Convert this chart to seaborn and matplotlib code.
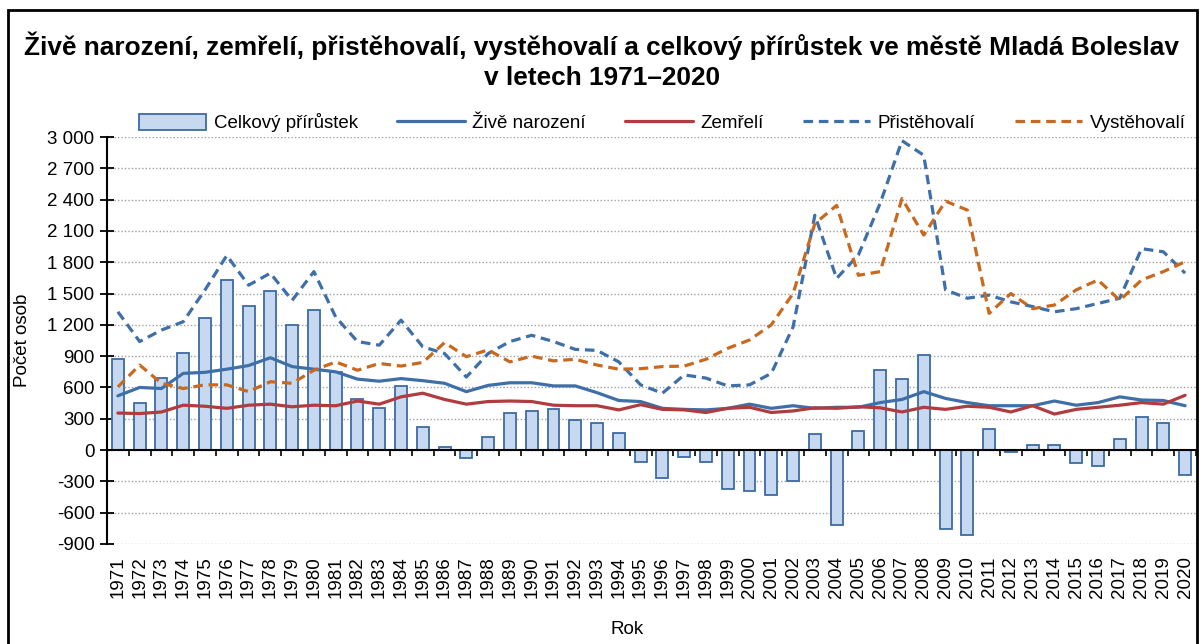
import matplotlib
matplotlib.use('Agg')
import matplotlib.pyplot as plt
from matplotlib.patches import Patch, Rectangle
from matplotlib.lines import Line2D
import seaborn as sns

# -- Data -----------------------------------------------------------------
years = list(range(1971, 2021))

growth = [870, 450, 690, 935, 1265, 1630, 1385, 1520, 1200, 1340,
          750, 490, 400, 615, 225, 25, -80, 125, 355, 375,
          395, 285, 260, 165, -110, -265, -70, -110, -370, -390,
          -430, -300, 150, -715, 185, 765, 685, 915, -755, -815,
          200, -20, 45, 45, -120, -150, 110, 320, 255, -240]

births = [520, 600, 590, 735, 745, 775, 810, 885, 800, 775,
          750, 680, 660, 685, 665, 640, 560, 620, 645, 645,
          615, 615, 550, 475, 465, 400, 390, 385, 400, 440,
          400, 425, 400, 410, 410, 455, 485, 560, 495, 455,
          425, 425, 425, 470, 430, 455, 510, 480, 475, 425]

deaths = [355, 350, 365, 430, 420, 400, 430, 440, 415, 430,
          425, 470, 440, 510, 545, 485, 440, 465, 470, 465,
          430, 425, 425, 385, 435, 390, 385, 360, 400, 410,
          360, 375, 405, 400, 415, 405, 365, 410, 390, 420,
          410, 365, 425, 345, 390, 410, 430, 455, 440, 525]

immigrants = [1325, 1040, 1150, 1230, 1535, 1865, 1580, 1695, 1435, 1710,
              1275, 1040, 1005, 1245, 990, 925, 700, 925, 1040, 1100,
              1040, 965, 955, 845, 625, 545, 720, 690, 615, 625,
              735, 1180, 2250, 1645, 1870, 2365, 2965, 2825, 1535, 1455,
              1485, 1420, 1375, 1325, 1355, 1405, 1455, 1930, 1900, 1695]

emigrants = [605, 815, 640, 590, 625, 625, 560, 655, 640, 765,
             845, 765, 830, 805, 840, 1030, 895, 960, 845, 900,
             855, 870, 815, 775, 780, 800, 805, 870, 975, 1055,
             1200, 1500, 2170, 2345, 1675, 1710, 2410, 2060, 2385, 2300,
             1310, 1500, 1355, 1390, 1535, 1630, 1435, 1630, 1710, 1805]

yticks = list(range(-900, 3001, 300))
ytick_labels = [f"{v:,}".replace(",", " ") for v in yticks]

labels = ['Celkový přírůstek', 'Živě narození', 'Zemřelí',
          'Přistěhovalí', 'Vystěhovalí']

# -- Style ----------------------------------------------------------------
BAR_FILL = '#c6d9f0'
BAR_EDGE = '#3d6ba3'
BLUE = '#3f6fa8'
RED = '#b03c3f'
ORANGE = '#c8691f'
DASH = (0, (3, 1.8))
FS = 13.5

sns.set_style('white')
plt.rcParams['font.family'] = ['Liberation Sans', 'DejaVu Sans']
plt.rcParams['text.color'] = 'black'
plt.rcParams['axes.labelcolor'] = 'black'
plt.rcParams['xtick.color'] = 'black'
plt.rcParams['ytick.color'] = 'black'

fig = plt.figure(figsize=(12.04, 6.44), dpi=100)
ax = fig.add_axes([107 / 1204, 1 - 544 / 644, 1089 / 1204, 407 / 644])

# -- Plot -----------------------------------------------------------------
sns.barplot(x=years, y=growth, native_scale=True, width=0.55,
            color=BAR_FILL, saturation=1, edgecolor=BAR_EDGE,
            linewidth=1.3, ax=ax, zorder=2)

sns.lineplot(x=years, y=births, color=BLUE, linewidth=2.3, ax=ax, zorder=3)
sns.lineplot(x=years, y=deaths, color=RED, linewidth=2.3, ax=ax, zorder=3)
sns.lineplot(x=years, y=immigrants, color=BLUE, linewidth=2.3,
             linestyle=DASH, ax=ax, zorder=3)
sns.lineplot(x=years, y=emigrants, color=ORANGE, linewidth=2.3,
             linestyle=DASH, ax=ax, zorder=3)

# -- Axes -----------------------------------------------------------------
ax.set_xlim(1970.5, 2020.5)
ax.set_ylim(-900, 3000)
ax.set_yticks(yticks, ytick_labels, fontsize=FS)
ax.yaxis.grid(True, linestyle=(0, (1, 1.5)), color='#a0a0a0', linewidth=1)
ax.set_axisbelow(True)

for side in ['top', 'right']:
    ax.spines[side].set_visible(False)
ax.spines['left'].set_color('black')
ax.spines['left'].set_linewidth(1.5)
ax.tick_params(axis='y', direction='inout', length=10, width=1.3,
               color='black', left=True, pad=4)

# x axis line sits on zero, tick marks between the years
ax.spines['bottom'].set_position(('data', 0))
ax.spines['bottom'].set_color('black')
ax.spines['bottom'].set_linewidth(1.5)
ax.set_xticks(years, [''] * len(years))
ax.set_xticks([y - 0.5 for y in years] + [2020.5], minor=True)
ax.tick_params(axis='x', which='major', length=0)
ax.tick_params(axis='x', which='minor', direction='out', length=4,
               width=1.2, color='black', bottom=True)

# year labels stay at the bottom of the plot area
sec = ax.secondary_xaxis('bottom')
sec.set_xticks(years, [str(y) for y in years], rotation=90, fontsize=FS)
sec.tick_params(length=0, pad=9)
sec.spines['bottom'].set_visible(False)

ax.set_xlabel('Rok', fontsize=FS)
ax.xaxis.set_label_coords(0.478, -0.19)
ax.set_ylabel('Počet osob', fontsize=FS)
ax.yaxis.set_label_coords(-0.07, 0.5)

# -- Title, legend, frame -------------------------------------------------
fig.suptitle('Živě narození, zemřelí, přistěhovalí, vystěhovalí a celkový '
             'přírůstek ve městě Mladá Boleslav\nv letech 1971–2020',
             x=0.5, y=1 - 32 / 644, va='top', fontsize=18.9,
             fontweight='bold', linespacing=1.3)

handles = [
    Patch(facecolor=BAR_FILL, edgecolor=BAR_EDGE, linewidth=1.3),
    Line2D([], [], color=BLUE, linewidth=2.3),
    Line2D([], [], color=RED, linewidth=2.3),
    Line2D([], [], color=BLUE, linewidth=2.3, linestyle=DASH),
    Line2D([], [], color=ORANGE, linewidth=2.3, linestyle=DASH),
]
fig.legend(handles, labels, loc='center', bbox_to_anchor=(662 / 1204, 1 - 123 / 644),
           ncol=5, frameon=False, fontsize=FS, handlelength=3.6,
           handleheight=0.9, columnspacing=2.1, handletextpad=0.4)

fig.add_artist(Rectangle((8 / 1204, -0.05), 1189 / 1204, 1 - 10 / 644 + 0.05,
                         transform=fig.transFigure, fill=False,
                         edgecolor='black', linewidth=2))

fig.savefig('out.png', dpi=100)
plt.close()
